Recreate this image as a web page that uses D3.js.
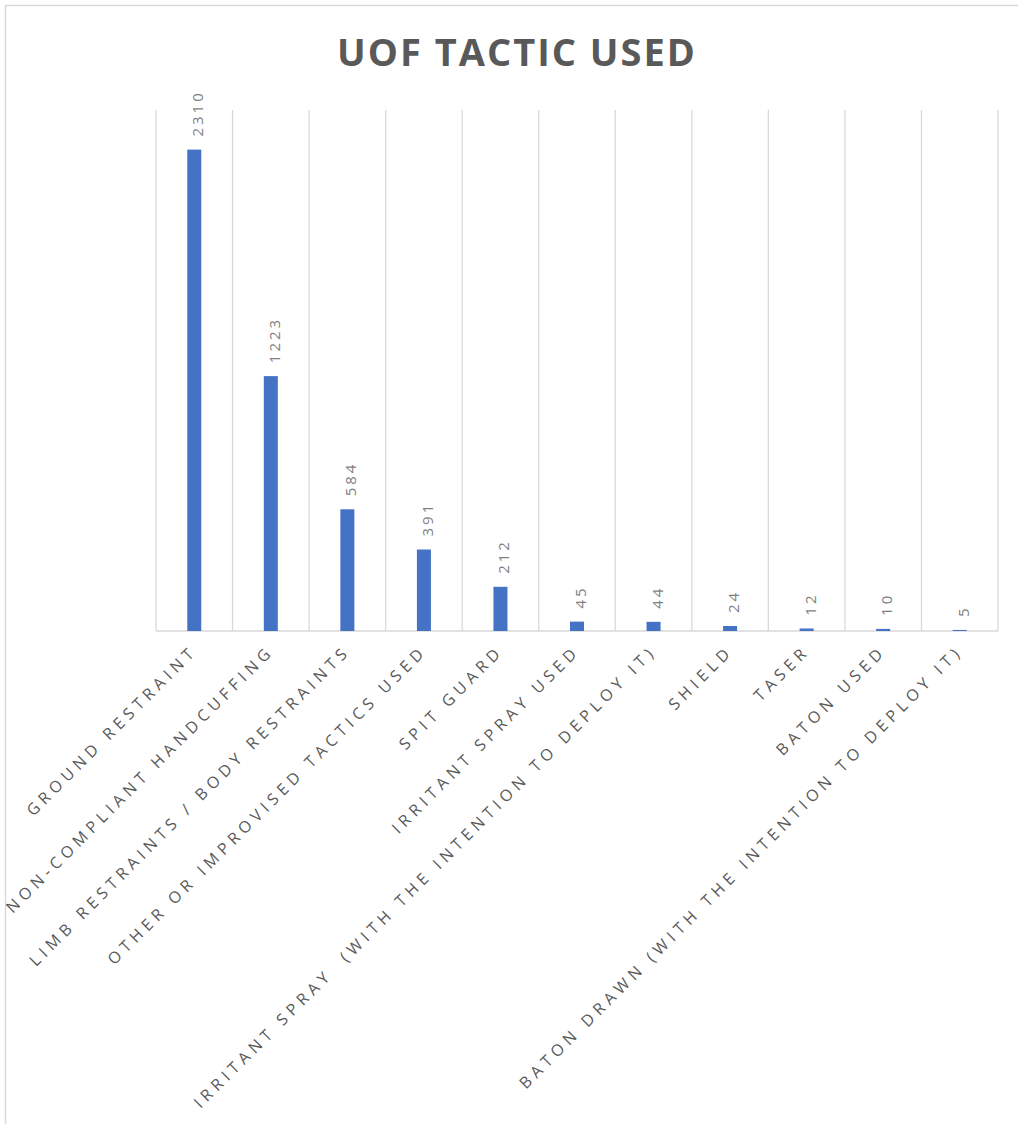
<!DOCTYPE html>
<html>
<head>
<meta charset="utf-8">
<script src="https://cdn.jsdelivr.net/npm/d3@7"></script>
<style>
  html, body { margin: 0; padding: 0; background: #fff; }
  svg { display: block; }
</style>
</head>
<body>
<div id="chart"></div>
<script>
const title = "UOF TACTIC USED";
const categories = [
  "GROUND RESTRAINT",
  "NON-COMPLIANT HANDCUFFING",
  "LIMB RESTRAINTS / BODY RESTRAINTS",
  "OTHER OR IMPROVISED TACTICS USED",
  "SPIT GUARD",
  "IRRITANT SPRAY USED",
  "IRRITANT SPRAY  (WITH THE INTENTION TO DEPLOY IT)",
  "SHIELD",
  "TASER",
  "BATON USED",
  "BATON DRAWN (WITH THE INTENTION TO DEPLOY IT)"
];
const values = [2310, 1223, 584, 391, 212, 45, 44, 24, 12, 10, 5];
const yMax = 2500;

const W = 1018, H = 1124;
const plot = { left: 156, right: 998, top: 110, bottom: 631 };

const svg = d3.select("#chart").append("svg")
  .attr("width", W).attr("height", H);

// chart-area border
svg.append("rect")
  .attr("x", 5.5).attr("y", 5.5)
  .attr("width", W + 50).attr("height", H + 50)
  .attr("fill", "none").attr("stroke", "#d9d9d9").attr("stroke-width", 1.5);

const x = d3.scaleBand().domain(categories).range([plot.left, plot.right]).padding(0);
const y = d3.scaleLinear().domain([0, yMax]).range([plot.bottom, plot.top]);

// vertical gridlines at category boundaries
const edges = categories.map(c => x(c)).concat([x(categories[categories.length - 1]) + x.bandwidth()]);
svg.append("g").selectAll("line").data(edges).join("line")
  .attr("x1", d => d).attr("x2", d => d)
  .attr("y1", y(yMax)).attr("y2", y(0))
  .attr("stroke", "#d9d9d9").attr("stroke-width", 1.3);

// baseline
svg.append("line")
  .attr("x1", plot.left).attr("x2", plot.right)
  .attr("y1", y(0)).attr("y2", y(0))
  .attr("stroke", "#d9d9d9").attr("stroke-width", 1.5);

const barW = x.bandwidth() * 0.183;
svg.append("g").selectAll("rect").data(values).join("rect")
  .attr("x", (d, i) => x(categories[i]) + x.bandwidth() / 2 - barW / 2)
  .attr("y", d => y(d))
  .attr("width", barW)
  .attr("height", d => y(0) - y(d))
  .attr("fill", "#4472c4");

// value labels
svg.append("g").selectAll("text").data(values).join("text")
  .attr("transform", (d, i) => `translate(${x(categories[i]) + x.bandwidth() / 2 + 9},${y(d) - 13}) rotate(-90)`)
  .attr("text-anchor", "start")
  .style("font-family", "'Open Sans', sans-serif")
  .style("font-size", "15px")
  .style("letter-spacing", "3px")
  .attr("fill", "#7f7f7f")
  .text(d => d);

// category labels
svg.append("g").selectAll("text").data(categories).join("text")
  .attr("transform", c => `translate(${x(c) + x.bandwidth() / 2 + 4},${y(0) + 21}) rotate(-45)`)
  .attr("text-anchor", "end")
  .attr("xml:space", "preserve")
  .style("white-space", "pre")
  .style("font-family", "'Open Sans', sans-serif")
  .style("font-size", "16px")
  .style("letter-spacing", "4.9px")
  .attr("fill", "#595959")
  .text(c => c);

// title
svg.append("text")
  .attr("x", 517).attr("y", 66)
  .attr("text-anchor", "middle")
  .style("font-family", "'Open Sans', sans-serif")
  .style("font-size", "38px")
  .style("font-weight", "bold")
  .style("letter-spacing", "2px")
  .attr("fill", "#595959")
  .text(title);
</script>
</body>
</html>
